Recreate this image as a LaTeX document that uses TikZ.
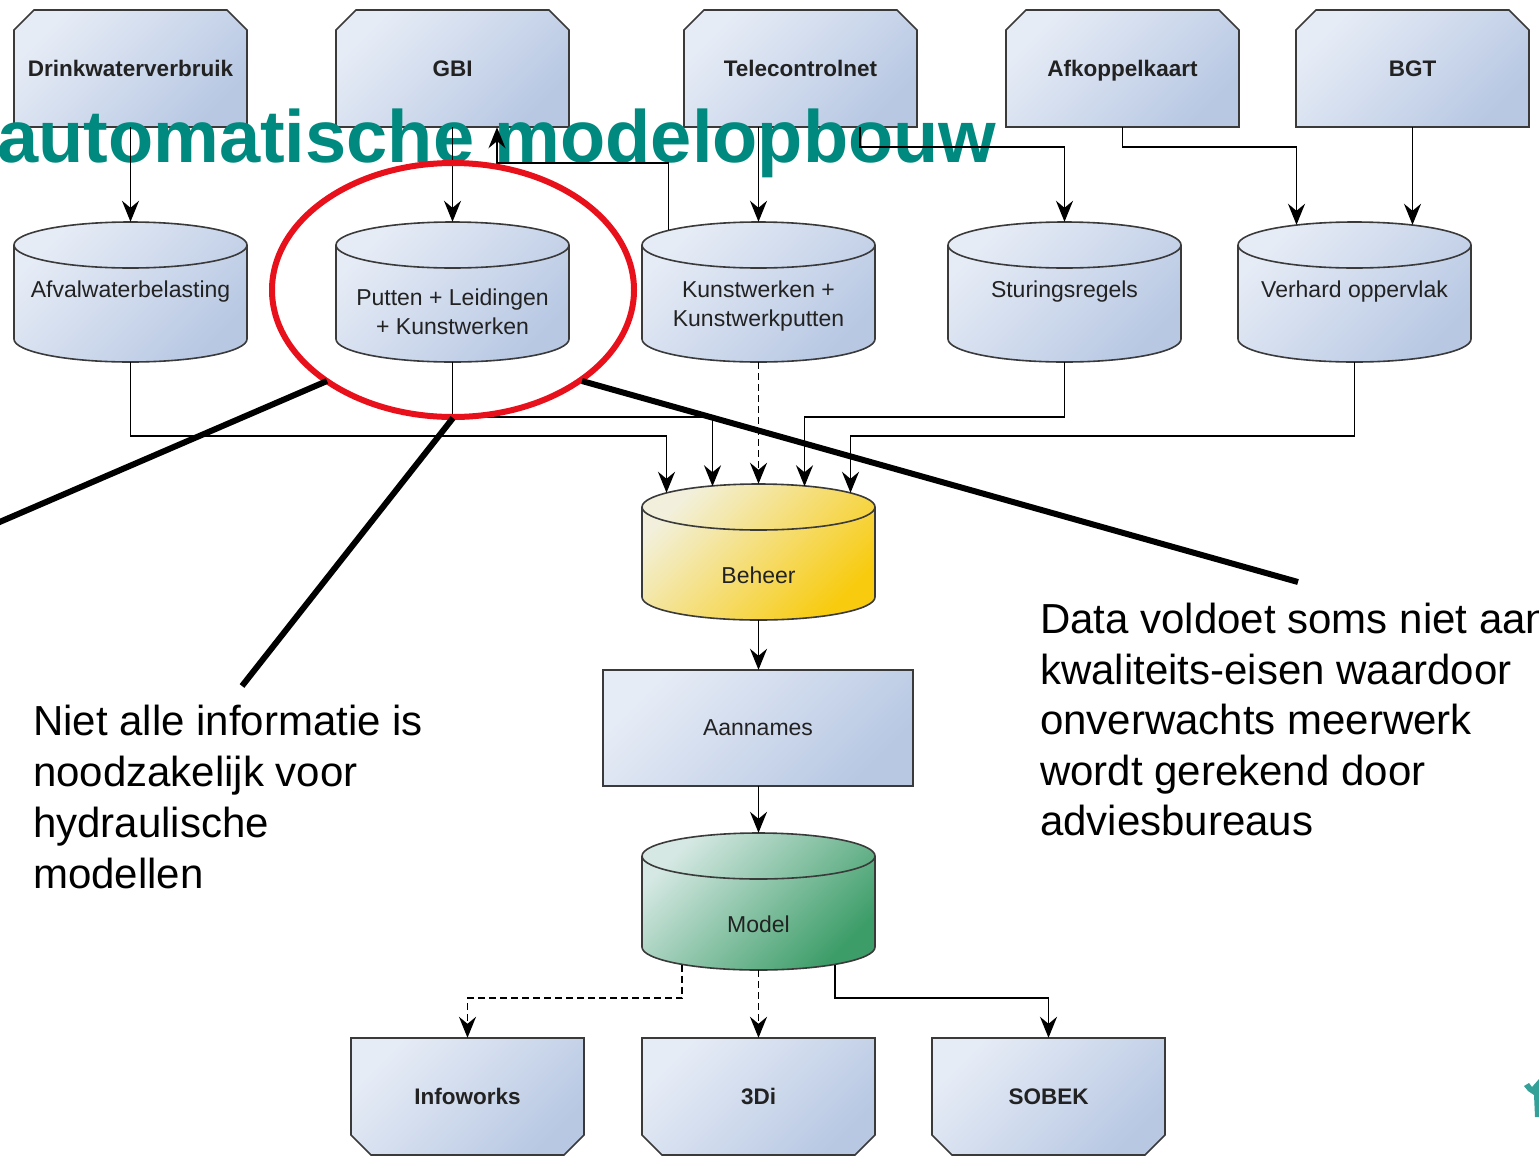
\documentclass[tikz,border=0pt]{standalone}
\usepackage{fontspec}
\setmainfont{Liberation Sans}
\usetikzlibrary{arrows.meta,calc}
\definecolor{boxL}{HTML}{E6ECF6}
\definecolor{boxR}{HTML}{B8C8E3}
\definecolor{yelL}{HTML}{F2F0DC}
\definecolor{yelR}{HTML}{F8CB0E}
\definecolor{grnL}{HTML}{D5E8E3}
\definecolor{grnR}{HTML}{3C9D68}
\definecolor{edge}{HTML}{3A3A3A}
\definecolor{titleC}{HTML}{00897E}
\definecolor{redC}{HTML}{E8101A}
\definecolor{txt}{HTML}{222222}
\tikzset{
  shapest/.style 2 args={draw=edge, line width=1.6pt, left color=#1, right color=#2, shading angle=45},
  boxlabel/.style={inner sep=0, text=txt, font=\bfseries\fontsize{22.5}{28}\selectfont, align=center, text height=16.5pt, text depth=0.5pt},
  cyllabel/.style={inner sep=0, text=txt, font=\fontsize{23}{29}\selectfont, align=center},
  conn/.style={draw=black, line width=1.9pt, -{Stealth[length=21pt,width=17pt,inset=7pt]}},
  dashconn/.style={conn, dash pattern=on 7pt off 4pt},
  note/.style={anchor=base west, inner sep=0, text=black, font=\fontsize{42}{51}\selectfont},
  callout/.style={draw=black, line width=6pt}
}
% top box: name, cx, cy, label (chamfer at top)
\newcommand\topbox[4]{%
  \path[shapest={boxL}{boxR}] (#2-116.5,#3-38.5) -- (#2-96.5,#3-58.5) -- (#2+96.5,#3-58.5) -- (#2+116.5,#3-38.5) -- (#2+116.5,#3+58.5) -- (#2-116.5,#3+58.5) -- cycle;
  \node[boxlabel, minimum width=233pt, minimum height=117pt] (#1) at (#2,#3) {#4};
}
% bottom box: chamfer at bottom
\newcommand\botbox[4]{%
  \path[shapest={boxL}{boxR}] (#2-116.5,#3-58.5) -- (#2+116.5,#3-58.5) -- (#2+116.5,#3+38.5) -- (#2+96.5,#3+58.5) -- (#2-96.5,#3+58.5) -- (#2-116.5,#3+38.5) -- cycle;
  \node[boxlabel, minimum width=233pt, minimum height=117pt] (#1) at (#2,#3) {#4};
}
% cylinder: name, cx, ytop, ybot, colL, colR
\newcommand\cylnode[6]{%
  \path[shapest={#5}{#6}] (#2-116.5,#3+23) -- (#2-116.5,#4-23) arc[start angle=180,end angle=360,x radius=116.5pt,y radius=23pt] -- (#2+116.5,#3+23) arc[start angle=0,end angle=180,x radius=116.5pt,y radius=23pt] -- cycle;
  \draw[draw=edge, line width=1.6pt] (#2-116.5,#3+23) arc[start angle=180,end angle=360,x radius=116.5pt,y radius=23pt];
  \node[inner sep=0, minimum width=233pt, minimum height={#4pt-#3pt}] (#1) at (#2,{(#3+#4)/2}) {};
}
\begin{document}
\begin{tikzpicture}[x=1pt, y=-1pt]
\path[use as bounding box] (0,0) rectangle (1539,1160);
\clip (0,0) rectangle (1539,1160);
\fill[white] (0,0) rectangle (1539,1160);

% top sources
\topbox{drink}{130.5}{68.5}{Drinkwaterverbruik}
\topbox{gbi}{452.5}{68.5}{GBI}
\topbox{tele}{800.5}{68.5}{Telecontrolnet}
\topbox{afk}{1122.5}{68.5}{Afkoppelkaart}
\topbox{bgt}{1412.5}{68.5}{BGT}

% second row cylinders
\cylnode{afval}{130.5}{222}{362}{boxL}{boxR}
\node[cyllabel] (afvalT) at (130.5,292) {Afvalwaterbelasting};
\cylnode{putten}{452.5}{222}{362}{boxL}{boxR}
\node[cyllabel] (puttenT) at (452.5,312) {Putten + Leidingen\\+ Kunstwerken};
\cylnode{kunst}{758.5}{222}{362}{boxL}{boxR}
\node[cyllabel] (kunstT) at (758.5,306) {Kunstwerken +\\Kunstwerkputten};
\cylnode{stur}{1064.5}{222}{362}{boxL}{boxR}
\node[cyllabel] (sturT) at (1064.5,292) {Sturingsregels};
\cylnode{verh}{1354.5}{222}{362}{boxL}{boxR}
\node[cyllabel] (verhT) at (1354.5,292) {Verhard oppervlak};

% central chain
\cylnode{beheer}{758.5}{484}{620}{yelL}{yelR}
\node[cyllabel] (beheerT) at (758.5,575) {Beheer};
\path[shapest={boxL}{boxR}] (603,670) rectangle (913,786);
\node[cyllabel, minimum width=310pt, minimum height=116pt] (aann) at (758,728) {Aannames};
\cylnode{model}{758.5}{833}{970}{grnL}{grnR}
\node[cyllabel] (modelT) at (758.5,924) {Model};

% bottom targets
\botbox{info}{467.5}{1096.5}{Infoworks}
\botbox{drie}{758.5}{1096.5}{3Di}
\botbox{sobek}{1048.5}{1096.5}{SOBEK}

% title
\node[anchor=base west, inner sep=0, text=titleC, font=\bfseries\fontsize{74}{88}\selectfont] (title) at (-3,162) {automatische modelopbouw};

% connectors top -> row 2
\draw[conn] (drink.south) -- (afval.north);
\draw[conn] (gbi.south) -- (putten.north);
\coordinate (kup) at ($(kunst.north)+(-90,8)$);
\draw[conn] (kup) -- ++(0,-67) -| ($(gbi.south)+(44.5,0)$);
\draw[conn] (tele.south -| kunst.north) -- (kunst.north);
\draw[conn] ($(tele.south)+(59.5,0)$) -- ++(0,20) -| (stur.north);
\draw[conn] (afk.south) -- ++(0,20) -| ($(verh.north)+(-58,3)$);
\draw[conn] (bgt.south) -- ($(bgt.south |- verh.north)+(0,3)$);

% row 2 -> Beheer
\draw[conn] (afval.south) -- ++(0,74) -| ($(beheer.north)+(-92,9)$);
\draw[conn] (putten.south) -- ++(0,55) -| ($(beheer.north)+(-46,2.5)$);
\draw[dashconn] (kunst.south) -- (beheer.north);
\draw[conn] (stur.south) -- ++(0,55) -| ($(beheer.north)+(46,2.5)$);
\draw[conn] (verh.south) -- ++(0,74) -| ($(beheer.north)+(92,9)$);

% chain
\draw[conn] (beheer.south) -- (aann.north -| beheer.south);
\draw[conn] (aann.south -| model.north) -- (model.north);

% model -> targets
\draw[dashconn] ($(model.south)+(-76.5,-5.5)$) -- ++(0,33.5) -| (info.north);
\draw[dashconn] (model.south) -- (drie.north);
\draw[conn] ($(model.south)+(76.5,-5.5)$) -- ++(0,33.5) -| (sobek.north);

% callouts
\draw[draw=redC, line width=6pt] (453,290) ellipse [x radius=181pt, y radius=127pt];
\draw[callout] (327,381) -- (-12,527);
\draw[callout] (453,418) -- (242,686);
\draw[callout] (582,381) -- (1298,582);

\node[note] (l1) at (33,735) {Niet alle informatie is};
\node[note] (l2) at (33,786) {noodzakelijk voor};
\node[note] (l3) at (33,837) {hydraulische};
\node[note] (l4) at (33,888) {modellen};

\node[note] (r1) at (1040,633) {Data voldoet soms niet aan};
\node[note] (r2) at (1040,684) {kwaliteits-eisen waardoor};
\node[note] (r3) at (1040,734) {onverwachts meerwerk};
\node[note] (r4) at (1040,785) {wordt gerekend door};
\node[note] (r5) at (1040,835) {adviesbureaus};

% small logo fragment
\fill[titleC!80] (1524,1086) -- (1529,1083) -- (1532,1087) -- (1539,1079) -- (1539,1117) -- (1535,1117) -- (1534,1095) -- (1528,1091) -- cycle;
\end{tikzpicture}
\end{document}
